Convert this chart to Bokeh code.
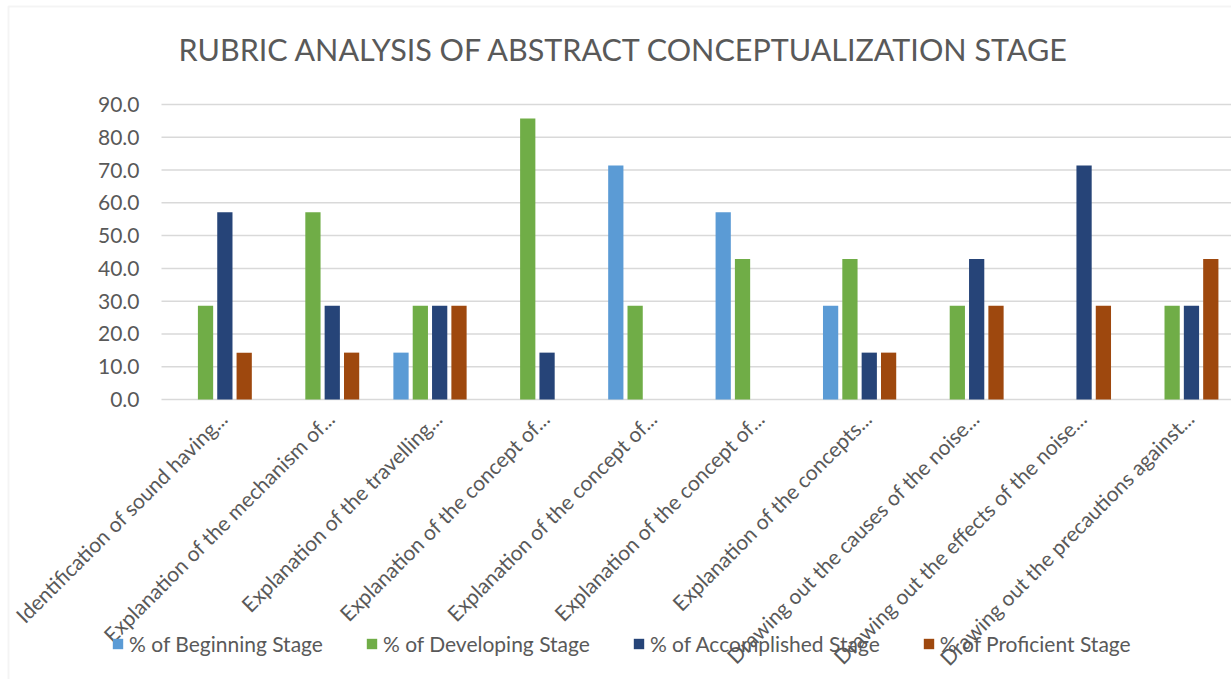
import math
from bokeh.plotting import figure
from bokeh.models import (ColumnDataSource, Range1d, FixedTicker, Legend, LegendItem,
                          PrintfTickFormatter, BoxAnnotation, Label)
from bokeh.embed import file_html
from bokeh.resources import INLINE

# Rubric criteria (labels are truncated as in the source workbook)
categories = [
    "Identification of sound having...",
    "Explanation of the mechanism of...",
    "Explanation of the travelling...",
    "Explanation of the concept of...",
    "Explanation of the concept of...",
    "Explanation of the concept of...",
    "Explanation of the concepts...",
    "Drawing out the causes of the noise...",
    "Drawing out the effects of the noise...",
    "Drawing out the precautions against...",
]

# Percentage of students at each stage, per criterion
beginning = [0.0, 0.0, 14.3, 0.0, 71.4, 57.1, 28.6, 0.0, 0.0, 0.0]
developing = [28.6, 57.1, 28.6, 85.7, 28.6, 42.9, 42.9, 28.6, 0.0, 28.6]
accomplished = [57.1, 28.6, 28.6, 14.3, 0.0, 0.0, 14.3, 42.9, 71.4, 28.6]
proficient = [14.3, 14.3, 28.6, 0.0, 0.0, 0.0, 14.3, 28.6, 28.6, 42.9]

series_names = ["% of Beginning Stage", "% of Developing Stage",
                "% of Accomplished Stage", "% of Proficient Stage"]
series_values = [beginning, developing, accomplished, proficient]
series_colors = ["#5B9BD5", "#70AD47", "#264478", "#9E480E"]

y_ticks = [0, 10, 20, 30, 40, 50, 60, 70, 80, 90]
title_text = "RUBRIC ANALYSIS OF ABSTRACT CONCEPTUALIZATION  STAGE"

FONT = "Lato"
TEXT_GRAY = "#595959"
GRID_GRAY = "#D9D9D9"

# Page geometry (pixels): the plotting frame fills the whole canvas so that
# the legend and the chart-area border can sit outside the bar region.
W, H = 1231, 679
AREA_LEFT, AREA_TOP, AREA_BOTTOM = 161, 104, 399   # value area in pixels
CAT_PX = 107.4                                      # width of one category
px_per_y = (AREA_BOTTOM - AREA_TOP) / 90.0

x_start = -AREA_LEFT / CAT_PX
x_end = (W - AREA_LEFT) / CAT_PX
y_end = 90 + AREA_TOP / px_per_y
y_start = -(H - AREA_BOTTOM) / px_per_y

centers = [i + 0.5 for i in range(len(categories))]
# rotated labels hang with their end slightly right of the group centre
label_shift = 8 / CAT_PX
label_pos = [c + label_shift for c in centers]

p = figure(width=W, height=H, output_backend="svg", toolbar_location=None,
           x_range=Range1d(x_start, x_end), y_range=Range1d(y_start, y_end),
           min_border=0, min_border_left=0, min_border_right=0,
           min_border_top=0, min_border_bottom=0)
p.outline_line_color = None
p.background_fill_color = "white"
p.border_fill_color = "white"
p.xgrid.visible = False
p.ygrid.visible = False

# horizontal gridlines across the value area
grid_src = ColumnDataSource(dict(y=y_ticks, x0=[0] * len(y_ticks),
                                 x1=[x_end] * len(y_ticks)))
p.segment(x0="x0", x1="x1", y0="y", y1="y", source=grid_src,
          line_color=GRID_GRAY, line_width=1.5, level="underlay")

bar_w = 0.142
offsets = [-0.27, -0.09, 0.09, 0.27]
legend_items = []
for name, vals, color, off in zip(series_names, series_values, series_colors, offsets):
    src = ColumnDataSource(dict(x=[c + off for c in centers], top=vals))
    r = p.vbar(x="x", top="top", width=bar_w, bottom=0, source=src,
               fill_color=color, line_color=None)
    legend_items.append(LegendItem(label=name, renderers=[r]))

# category axis pinned at y = 0
xa = p.xaxis[0]
xa.fixed_location = 0
xa.ticker = FixedTicker(ticks=label_pos)
xa.major_label_overrides = {c: lab for c, lab in zip(label_pos, categories)}
xa.major_label_orientation = math.pi / 4
xa.major_label_text_font = FONT
xa.major_label_text_font_size = "21px"
xa.major_label_text_color = TEXT_GRAY
xa.major_label_standoff = 15
xa.major_tick_out = 0
xa.major_tick_in = 0
xa.axis_line_color = None
xa.major_tick_line_color = None
xa.minor_tick_line_color = None

# value axis pinned at x = 0
ya = p.yaxis[0]
ya.fixed_location = 0
ya.ticker = FixedTicker(ticks=y_ticks)
ya.formatter = PrintfTickFormatter(format="%.1f")
ya.major_label_text_font = FONT
ya.major_label_text_font_size = "21px"
ya.major_label_text_color = TEXT_GRAY
ya.major_label_standoff = 22
ya.major_tick_out = 0
ya.major_tick_in = 0
ya.axis_line_color = None
ya.major_tick_line_color = None
ya.minor_tick_line_color = None

# chart title
p.add_layout(Label(x=(178 - AREA_LEFT) / CAT_PX, y=90 + (AREA_TOP - 48) / px_per_y,
                   text=title_text, text_font=FONT, text_font_size="30.5px",
                   text_color=TEXT_GRAY, text_baseline="middle", text_align="left"))

legend = Legend(items=legend_items, orientation="horizontal", location=(111, 23),
                label_text_font=FONT, label_text_font_size="21px",
                label_text_color=TEXT_GRAY, glyph_width=13, glyph_height=13,
                label_standoff=5, spacing=42, padding=0, margin=0,
                border_line_color=None, background_fill_alpha=0)
p.add_layout(legend, "center")

# chart area border (left and top edges are inside the page)
p.add_layout(BoxAnnotation(left=x_start + 8 / CAT_PX, right=x_end + 1,
                           top=y_end - 6 / px_per_y, bottom=y_start - 1,
                           fill_color=None, line_color=GRID_GRAY, line_width=2))

open("out.html", "w").write(file_html(p, INLINE))
